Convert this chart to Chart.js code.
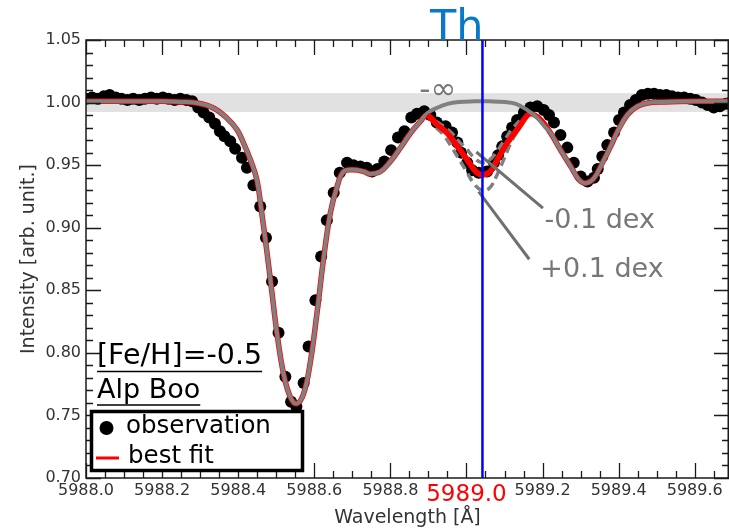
<!DOCTYPE html>
<html>
<head>
<meta charset="utf-8">
<script src="https://cdn.jsdelivr.net/npm/chart.js@4.4.0/dist/chart.umd.min.js"></script>
<style>
  html, body { margin: 0; padding: 0; background: #fff; }
</style>
</head>
<body>
<canvas id="spec" width="729" height="531"></canvas>
<script>
// observed spectrum (Alp Boo), wavelength in A
var obsWave = [5988.000, 5988.016, 5988.031, 5988.047, 5988.062, 5988.078, 5988.093, 5988.109, 5988.124, 5988.140,
  5988.155, 5988.171, 5988.186, 5988.202, 5988.217, 5988.233, 5988.248, 5988.264, 5988.279, 5988.295,
  5988.309, 5988.324, 5988.339, 5988.352, 5988.364, 5988.379, 5988.392, 5988.410, 5988.423, 5988.440,
  5988.458, 5988.473, 5988.489, 5988.506, 5988.524, 5988.539, 5988.553, 5988.572, 5988.585, 5988.603,
  5988.618, 5988.633, 5988.651, 5988.667, 5988.686, 5988.703, 5988.721, 5988.738, 5988.752, 5988.766,
  5988.784, 5988.802, 5988.820, 5988.837, 5988.855, 5988.870, 5988.889, 5988.905, 5988.922, 5988.945,
  5988.962, 5988.976, 5988.986, 5989.002, 5989.015, 5989.032, 5989.054, 5989.072, 5989.083, 5989.094,
  5989.107, 5989.120, 5989.133, 5989.151, 5989.168, 5989.186, 5989.203, 5989.217, 5989.230, 5989.247,
  5989.265, 5989.282, 5989.300, 5989.318, 5989.335, 5989.345, 5989.357, 5989.370, 5989.388, 5989.401,
  5989.414, 5989.430, 5989.445, 5989.461, 5989.477, 5989.493, 5989.509, 5989.525, 5989.540, 5989.556,
  5989.572, 5989.588, 5989.603, 5989.619, 5989.634, 5989.650, 5989.666, 5989.682, 5989.698];
var obsFlux = [1.003, 1.004, 1.003, 1.005, 1.006, 1.004, 1.003, 1.002, 1.003, 1.002,
  1.003, 1.004, 1.003, 1.004, 1.003, 1.002, 1.003, 1.002, 1.001, 0.996,
  0.992, 0.988, 0.983, 0.977, 0.973, 0.969, 0.963, 0.956, 0.948, 0.934,
  0.917, 0.892, 0.857, 0.816, 0.781, 0.761, 0.757, 0.776, 0.805, 0.842,
  0.877, 0.906, 0.928, 0.944, 0.952, 0.950, 0.949, 0.948, 0.945, 0.947,
  0.953, 0.962, 0.972, 0.977, 0.988, 0.991, 0.993, 0.990, 0.984, 0.981,
  0.976, 0.968, 0.960, 0.952, 0.946, 0.944, 0.945, 0.952, 0.958, 0.965,
  0.973, 0.980, 0.986, 0.992, 0.996, 0.997, 0.994, 0.990, 0.984, 0.974,
  0.964, 0.952, 0.941, 0.937, 0.940, 0.947, 0.957, 0.966, 0.976, 0.986,
  0.992, 0.998, 1.002, 1.006, 1.007, 1.007, 1.006, 1.006, 1.005, 1.004,
  1.004, 1.003, 1.002, 1.000, 0.998, 0.996, 0.997, 0.999, 1.001];

// best fit synthetic spectrum
var fitWave = [5988.00, 5988.10, 5988.20, 5988.25, 5988.291, 5988.335, 5988.370, 5988.397, 5988.414, 5988.432,
  5988.449, 5988.462, 5988.476, 5988.489, 5988.502, 5988.519, 5988.537, 5988.554, 5988.572, 5988.589,
  5988.607, 5988.624, 5988.642, 5988.660, 5988.677, 5988.703, 5988.730, 5988.747, 5988.774, 5988.800,
  5988.826, 5988.853, 5988.879, 5988.897, 5988.923, 5988.949, 5988.976, 5989.002, 5989.024, 5989.041,
  5989.063, 5989.081, 5989.107, 5989.133, 5989.151, 5989.168, 5989.195, 5989.221, 5989.247, 5989.274,
  5989.296, 5989.313, 5989.335, 5989.357, 5989.379, 5989.397, 5989.423, 5989.449, 5989.476, 5989.520,
  5989.600, 5989.700];
var fitFlux = [1.001, 1.001, 1.001, 1.0005, 0.9997, 0.9957, 0.9877, 0.9783, 0.9677, 0.9543,
  0.9383, 0.9116, 0.8796, 0.8475, 0.8155, 0.7835, 0.7647, 0.7594, 0.7674, 0.7914,
  0.8315, 0.8742, 0.9116, 0.9329, 0.9449, 0.9463, 0.9449, 0.9430, 0.9449, 0.9530,
  0.9637, 0.9757, 0.9850, 0.9900, 0.9823, 0.9757, 0.9650, 0.9543, 0.9450, 0.9423,
  0.9450, 0.9543, 0.9677, 0.9783, 0.9863, 0.9910, 0.9863, 0.9757, 0.9623, 0.9490,
  0.9383, 0.9356, 0.9396, 0.9517, 0.9650, 0.9770, 0.9903, 0.9970, 0.9997, 1.0005,
  1.001, 1.001];

// synthetic without Th (log eps = -inf), only where it differs from the fit
var noThWave = [5988.879, 5988.897, 5988.920, 5988.950, 5988.980, 5989.020, 5989.060, 5989.100, 5989.130, 5989.160, 5989.185, 5989.205, 5989.221];
var noThFlux = [0.9850, 0.9915, 0.9955, 0.9990, 1.0005, 1.0010, 1.0010, 1.0005, 0.9990, 0.9940, 0.9880, 0.9810, 0.9757];

// +/-0.1 dex Th abundance
var dexWave = [5988.92, 5988.94, 5988.96, 5988.98, 5989.00, 5989.02, 5989.04, 5989.06, 5989.08, 5989.10, 5989.12, 5989.14];
var plusFlux = [0.980, 0.974, 0.965, 0.955, 0.945, 0.935, 0.930, 0.9315, 0.942, 0.956, 0.970, 0.980];
var minusFlux = [0.985, 0.981, 0.976, 0.969, 0.963, 0.956, 0.952, 0.954, 0.961, 0.970, 0.979, 0.9855];

var xTicks = [5988.0, 5988.2, 5988.4, 5988.6, 5988.8, 5989.0, 5989.2, 5989.4, 5989.6];
var yTicks = [0.70, 0.75, 0.80, 0.85, 0.90, 0.95, 1.00, 1.05];

var thWave = 5989.042;
var thickFrom = 5988.895, thickTo = 5989.155;
var bandLow = 0.9925, bandHigh = 1.0075;

function pts(xs, ys) {
  return xs.map(function (x, i) { return { x: x, y: ys[i] }; });
}

// gray line: fit outside the Th region, -inf curve inside it
var grayPts = [];
fitWave.forEach(function (w, i) {
  if (w < noThWave[0]) grayPts.push({ x: w, y: fitFlux[i] });
});
grayPts = grayPts.concat(pts(noThWave, noThFlux));
fitWave.forEach(function (w, i) {
  if (w > noThWave[noThWave.length - 1]) grayPts.push({ x: w, y: fitFlux[i] });
});

var thickPts = pts(fitWave, fitFlux).filter(function (p) {
  return p.x >= thickFrom && p.x <= thickTo;
});

function isTh(c) {
  return c && c.tick && Math.abs(c.tick.value - 5989.0) < 1e-6;
}

var FONT = '"DejaVu Sans", Verdana, sans-serif';
Chart.defaults.font.family = FONT;

var deco = {
  id: 'deco',
  beforeDatasetsDraw: function (chart) {
    var ctx = chart.ctx, a = chart.chartArea, ys = chart.scales.y;
    var t = ys.getPixelForValue(bandHigh), b = ys.getPixelForValue(bandLow);
    ctx.save();
    ctx.fillStyle = '#e1e1e1';
    ctx.fillRect(a.left, t, a.right - a.left, b - t);
    ctx.restore();
  },
  afterDatasetsDraw: function (chart) {
    var ctx = chart.ctx, a = chart.chartArea, xs = chart.scales.x, ys = chart.scales.y;
    function px(w) { return xs.getPixelForValue(w); }
    function py(f) { return ys.getPixelForValue(f); }
    ctx.save();
    // leader lines for +/-0.1 dex
    ctx.strokeStyle = '#707070';
    ctx.lineWidth = 3;
    ctx.beginPath();
    ctx.moveTo(px(5989.026), py(0.9605));
    ctx.lineTo(px(5989.201), py(0.9156));
    ctx.moveTo(px(5989.032), py(0.9289));
    ctx.lineTo(px(5989.165), py(0.8748));
    ctx.stroke();
    // Th line
    ctx.strokeStyle = '#0000ff';
    ctx.lineWidth = 2.5;
    ctx.beginPath();
    ctx.moveTo(px(thWave), a.top);
    ctx.lineTo(px(thWave), a.bottom);
    ctx.stroke();

    ctx.fillStyle = '#777';
    ctx.textBaseline = 'middle';
    ctx.textAlign = 'left';
    ctx.font = '27px ' + FONT;
    ctx.fillText('-0.1 dex', px(5989.205), py(0.9055));
    ctx.fillText('+0.1 dex', px(5989.194), py(0.8662));
    ctx.font = '31px ' + FONT;
    ctx.fillText('-\u221e', px(5988.876), py(1.0095));
    ctx.restore();
  },
  afterDraw: function (chart) {
    var ctx = chart.ctx, a = chart.chartArea, xs = chart.scales.x, ys = chart.scales.y;
    ctx.save();
    // frame
    ctx.strokeStyle = '#1a1a1a';
    ctx.lineWidth = 1.5;
    ctx.strokeRect(a.left, a.top, a.right - a.left - 0.75, a.bottom - a.top);
    // ticks on all four sides, pointing inward
    ctx.lineWidth = 1.3;
    ctx.beginPath();
    var k, p, len;
    for (k = 0; k <= 34; k++) {
      var w = 5988 + k * 0.05;
      if (w > xs.max) break;
      p = Math.round(xs.getPixelForValue(w)) + 0.5;
      len = (k % 4 === 0) ? 15 : 7;
      ctx.moveTo(p, a.bottom); ctx.lineTo(p, a.bottom - len);
      ctx.moveTo(p, a.top); ctx.lineTo(p, a.top + len);
    }
    for (k = 0; k <= 35; k++) {
      var f = 0.70 + k * 0.01;
      p = Math.round(ys.getPixelForValue(f)) + 0.5;
      len = (k % 5 === 0) ? 15 : 7;
      ctx.moveTo(a.left, p); ctx.lineTo(a.left + len, p);
      ctx.moveTo(a.right, p); ctx.lineTo(a.right - len, p);
    }
    ctx.stroke();

    // Th label
    ctx.fillStyle = '#0a78c8';
    ctx.font = '43px ' + FONT;
    ctx.textAlign = 'right';
    ctx.textBaseline = 'alphabetic';
    ctx.fillText('Th', xs.getPixelForValue(thWave) + 1, 40);

    // star info, underlined
    ctx.fillStyle = '#000';
    ctx.strokeStyle = '#000';
    ctx.textAlign = 'left';
    ctx.textBaseline = 'middle';
    ctx.lineWidth = 1.5;
    [['[Fe/H]=-0.5', 357, 371.5, 28.5], ['Alp Boo', 391, 405, 27]].forEach(function (t) {
      ctx.font = t[3] + 'px ' + FONT;
      ctx.fillText(t[0], 97, t[1]);
      var wdt = ctx.measureText(t[0]).width;
      ctx.beginPath();
      ctx.moveTo(97, t[2]); ctx.lineTo(97 + wdt, t[2]);
      ctx.stroke();
    });

    // legend
    ctx.fillStyle = '#fff';
    ctx.fillRect(91.5, 411.5, 211, 59);
    ctx.lineWidth = 3.5;
    ctx.strokeStyle = '#000';
    ctx.strokeRect(91.5, 411.5, 211, 59);
    ctx.fillStyle = '#000';
    ctx.beginPath();
    ctx.arc(106.5, 428, 7, 0, Math.PI * 2);
    ctx.fill();
    ctx.strokeStyle = '#ff0000';
    ctx.lineWidth = 3;
    ctx.beginPath();
    ctx.moveTo(96, 458); ctx.lineTo(119, 458);
    ctx.stroke();
    ctx.fillStyle = '#000';
    ctx.font = '24.5px ' + FONT;
    ctx.fillText('observation', 126, 427);
    ctx.fillText('best fit', 128, 457);
    ctx.restore();
  }
};

new Chart(document.getElementById('spec').getContext('2d'), {
  type: 'scatter',
  data: {
    datasets: [
      {
        label: 'best fit (Th region)',
        data: thickPts,
        showLine: true,
        borderColor: '#ff0000',
        borderWidth: 5.5,
        pointRadius: 0,
        tension: 0.4,
        order: 1
      },
      {
        label: '+0.1 dex',
        data: pts(dexWave, plusFlux),
        showLine: true,
        borderColor: '#808080',
        borderWidth: 3.5,
        borderDash: [9, 5],
        pointRadius: 0,
        tension: 0.4,
        order: 2
      },
      {
        label: '-0.1 dex',
        data: pts(dexWave, minusFlux),
        showLine: true,
        borderColor: '#808080',
        borderWidth: 3.5,
        borderDash: [9, 5],
        pointRadius: 0,
        tension: 0.4,
        order: 2
      },
      {
        label: '-inf',
        data: grayPts,
        showLine: true,
        borderColor: '#808080',
        borderWidth: 4,
        pointRadius: 0,
        tension: 0.4,
        order: 3
      },
      {
        label: 'best fit',
        data: pts(fitWave, fitFlux),
        showLine: true,
        borderColor: '#ff0000',
        borderWidth: 5.5,
        pointRadius: 0,
        tension: 0.4,
        order: 4
      },
      {
        label: 'observation',
        data: pts(obsWave, obsFlux),
        showLine: false,
        backgroundColor: '#000',
        borderColor: '#000',
        borderWidth: 0,
        pointRadius: 6,
        order: 5
      }
    ]
  },
  options: {
    responsive: false,
    animation: false,
    devicePixelRatio: 1,
    layout: { autoPadding: false, padding: { top: 40, left: 0, right: 0, bottom: 0 } },
    plugins: { legend: { display: false }, tooltip: { enabled: false } },
    scales: {
      x: {
        type: 'linear',
        min: 5988.0,
        max: 5989.69,
        afterBuildTicks: function (s) { s.ticks = xTicks.map(function (v) { return { value: v }; }); },
        afterFit: function (s) { s.height = 53; s.paddingLeft = 0; s.paddingRight = 0; },
        grid: { display: false, drawTicks: false },
        border: { display: false },
        ticks: {
          autoSkip: false,
          maxRotation: 0,
          padding: 3,
          color: function (c) { return isTh(c) ? '#ff0000' : '#333'; },
          font: function (c) { return { size: isTh(c) ? 23 : 16 }; },
          callback: function (v) { return Number(v).toFixed(1); }
        },
        title: {
          display: true,
          text: 'Wavelength [\u00c5]',
          color: '#333',
          font: { size: 19 },
          padding: { top: 0, bottom: 1.5 }
        }
      },
      y: {
        type: 'linear',
        min: 0.70,
        max: 1.05,
        afterBuildTicks: function (s) { s.ticks = yTicks.map(function (v) { return { value: v }; }); },
        afterFit: function (s) { s.width = 86; s.paddingTop = 0; s.paddingBottom = 0; },
        grid: { display: false, drawTicks: false },
        border: { display: false },
        ticks: {
          autoSkip: false,
          padding: 5,
          color: '#333',
          font: { size: 16 },
          callback: function (v) { return Number(v).toFixed(2); }
        },
        title: {
          display: true,
          text: 'Intensity [arb. unit.]',
          color: '#333',
          font: { size: 19 },
          padding: { top: 18, bottom: 0 }
        }
      }
    }
  },
  plugins: [deco]
});
</script>
</body>
</html>
